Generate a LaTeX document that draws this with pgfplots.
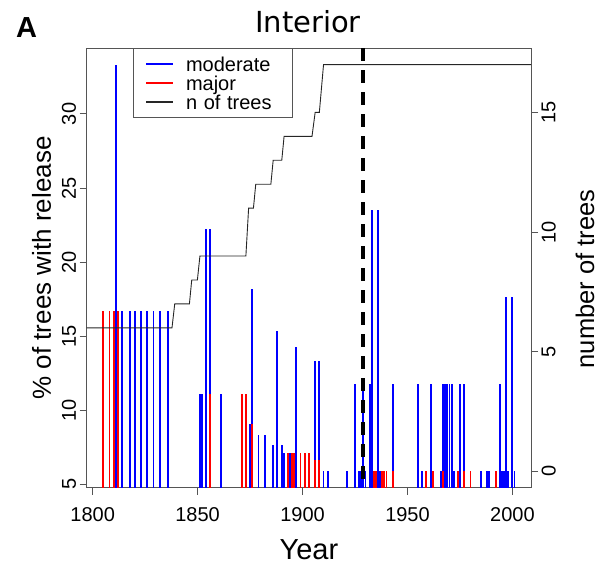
\documentclass[border=0pt]{standalone}
\usepackage{fontspec}
\setmainfont{Liberation Sans}
\newfontfamily\titlefont{DejaVu Sans}
\usepackage{pgfplots}
\usepackage{pgfplotstable}
\pgfplotsset{compat=1.18}
\definecolor{rblue}{RGB}{0,0,255}
\definecolor{rred}{RGB}{255,0,0}
\definecolor{frame}{RGB}{85,85,85}

% percent of trees with a release event, by year
\pgfplotstableread{
year pct
1811 33.33
1814 16.67
1818 16.67
1820 16.67
1823 16.67
1826 16.67
1829 16.67
1832 16.67
1836 16.67
1851 11.11
1852 11.11
1854 22.22
1856 22.22
1861 11.11
1875 9.09
1876 18.18
1879 8.33
1882 8.33
1886 7.69
1888 15.38
1890 7.69
1891 7.14
1894 7.14
1897 14.29
1906 13.33
1908 13.33
1910 5.88
1912 5.88
1921 5.88
1925 11.76
1927 5.88
1928 5.88
1929 11.76
1930 5.88
1932 11.76
1933 23.53
1936 23.53
1937 5.88
1943 11.76
1955 11.76
1957 5.88
1961 11.76
1966 5.88
1967 11.76
1968 11.76
1969 11.76
1970 11.76
1971 11.76
1972 5.88
1975 11.76
1977 11.76
1985 5.88
1988 5.88
1989 5.88
1994 11.76
1995 5.88
1996 5.88
1997 17.65
1998 5.88
2000 17.65
2001 5.88
}\moderate

\pgfplotstableread{
year pct
1805 16.67
1808 16.67
1810 16.67
1812 16.67
1856 11.11
1871 11.11
1873 11.11
1876 9.09
1893 7.14
1895 7.14
1896 7.14
1899 7.14
1901 7.14
1903 7.14
1906 6.67
1908 6.67
1934 5.88
1935 5.88
1938 5.88
1939 5.88
1940 5.88
1943 5.88
1959 5.88
1962 5.88
1967 5.88
1974 5.88
1977 5.88
1980 5.88
1992 5.88
}\major

\pgfplotsset{
  common/.style={
    at={(86.7pt,76.3pt)}, anchor=south west,
    scale only axis, width=444.3pt, height=439.4pt,
    xmin=1797.16, xmax=2008.84,
    tick align=outside, major tick length=7pt,
    axis line style={frame, line width=0.9pt},
    tick style={frame, line width=0.9pt},
    ticklabel style={font=\fontsize{20}{24}\selectfont},
    /pgf/number format/assume math mode=true,
    /pgf/number format/1000 sep={},
  },
}

\begin{document}
\begin{tikzpicture}[x=1pt,y=1pt]
\useasboundingbox (0,0) rectangle (598,564);

\begin{axis}[common,
  ymin=4.78, ymax=34.43,
  xtick={1800,1850,1900,1950,2000}, ytick={5,10,15,20,25,30},
  xtick pos=bottom, ytick pos=left,
  xticklabel style={anchor=north, yshift=-9pt},
  yticklabel style={rotate=90, anchor=south},
  xlabel={Year}, ylabel={\% of trees with release},
  every axis x label/.style={at={(axis description cs:0.5,-0.1623)}, anchor=base,
    font=\fontsize{29}{34}\selectfont},
  every axis y label/.style={at={(axis description cs:-0.0804,0.5)}, rotate=90, anchor=base,
    font=\fontsize{26}{31}\selectfont},
]
\addplot[ycomb, rblue, line width=1.9pt, forget plot] table[x=year, y=pct] {\moderate};
\addplot[ycomb, rred, line width=1.9pt, forget plot] table[x=year, y=pct] {\major};
\addplot[black, line width=4pt, dash pattern=on 13pt off 9pt, forget plot]
  coordinates {(1929,34.43) (1929,4.78)};
\end{axis}

\begin{axis}[common,
  ymin=-0.68, ymax=17.68,
  axis x line=none, axis y line*=right,
  axis line style={-},
  ytick={0,5,10,15},
  yticklabel style={rotate=90, anchor=north},
  ylabel={number of trees},
  every axis y label/.style={at={(axis description cs:1.1418,0.475)}, rotate=90, anchor=base,
    font=\fontsize{25.5}{30}\selectfont},
  legend image code/.code={\draw[#1, line width=1.6pt] (0pt,0pt) -- (27pt,0pt);},
  legend style={at={(axis description cs:0.1049,1)}, anchor=north west,
    draw=frame, line width=0.8pt, fill=white, inner xsep=11.7pt, inner ysep=6pt,
    column sep=12pt,
    font=\fontsize{20}{24}\selectfont,
    nodes={inner sep=0pt, text height=17pt, text depth=2pt, text width=95pt, align=left},
    cells={anchor=west}},
]
\addlegendimage{rblue}
\addlegendimage{rred}
\addplot[black!85, line width=0.9pt] coordinates {
  (1797,6) (1837.8,6) (1839.1,7) (1846.1,7) (1847.2,8) (1849.9,8) (1851.1,9)
  (1873,9) (1874.3,11) (1876.6,11) (1877.7,12) (1884.9,12) (1886,13) (1890.1,13)
  (1891.2,14) (1904.5,14) (1906,15) (1908,15) (1910,17) (2009,17)};
\legend{moderate, major, n of trees}
\end{axis}

\node[font=\titlefont\fontsize{29}{34}\selectfont, anchor=base] at (308,531.4) {Interior};
\node[font=\bfseries\fontsize{29}{34}\selectfont, anchor=base west, inner sep=0pt] at (16,526.5) {A};
\end{tikzpicture}
\end{document}
